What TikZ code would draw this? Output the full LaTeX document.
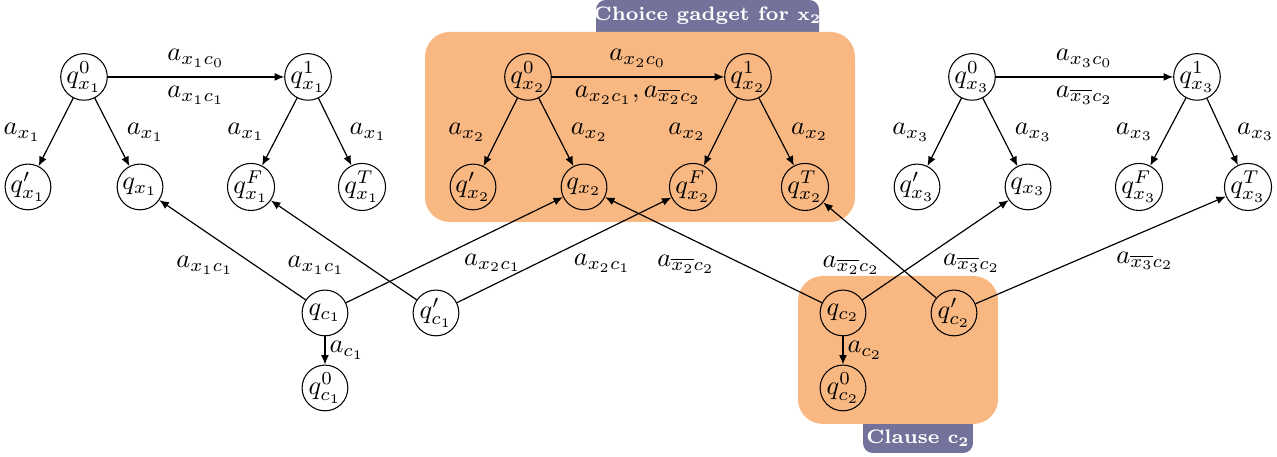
\documentclass[tikz,border=0pt]{standalone}
\usepackage{tikz}
\usetikzlibrary{arrows.meta,calc}
\usepackage{xcolor}
\usepackage{amsmath}
\definecolor{GadgetFill}{HTML}{F9B882}
\definecolor{TagFill}{HTML}{72729A}

\begin{document}
\begin{tikzpicture}[x=1cm,y=1cm,>={Latex[length=3.6pt,width=3pt]},
  stnode/.style={circle,draw,minimum size=0.61cm,inner sep=0pt},
  trans/.style={->,line width=0.45pt},
  lblL/.style={anchor=north east,inner sep=1pt},
  lblR/.style={anchor=north west,inner sep=1pt,yshift=-1.5pt},
  tagtext/.style={text=white,font=\fontsize{7.4}{9}\selectfont\bfseries,inner sep=0pt}]
\useasboundingbox (0,0) rectangle (17.027,6.093);
% gadget backgrounds and their tags
\fill[TagFill,rounded corners=0.13cm] (7.947,5.400) rectangle (10.920,6.093);
\fill[GadgetFill,rounded corners=0.33cm] (5.667,3.133) rectangle (11.400,5.667);
\fill[TagFill,rounded corners=0.13cm] (11.507,0.053) rectangle (12.973,0.800);
\fill[GadgetFill,rounded corners=0.33cm] (10.640,0.440) rectangle (13.307,2.413);
\node[tagtext] (gtag) at (9.433,5.880) {Choice gadget for $\mathbf{x_2}$};
\node[tagtext] (ctag) at (12.240,0.247) {Clause $\mathbf{c_2}$};
% variable x1
\node[stnode] (q0x1) at (1.120,5.067) {$q^0_{x_1}$};
\node[stnode] (q1x1) at (4.107,5.067) {$q^1_{x_1}$};
\node[stnode] (qpx1) at (0.373,3.600) {$q'_{x_1}$};
\node[stnode] (qx1) at (1.867,3.600) {$q_{x_1}$};
\node[stnode] (qFx1) at (3.347,3.600) {$q^F_{x_1}$};
\node[stnode] (qTx1) at (4.827,3.600) {$q^T_{x_1}$};
% variable x2
\node[stnode] (q0x2) at (7.040,5.067) {$q^0_{x_2}$};
\node[stnode] (q1x2) at (9.973,5.067) {$q^1_{x_2}$};
\node[stnode] (qpx2) at (6.307,3.600) {$q'_{x_2}$};
\node[stnode] (qx2) at (7.787,3.600) {$q_{x_2}$};
\node[stnode] (qFx2) at (9.240,3.600) {$q^F_{x_2}$};
\node[stnode] (qTx2) at (10.733,3.600) {$q^T_{x_2}$};
% variable x3
\node[stnode] (q0x3) at (12.960,5.067) {$q^0_{x_3}$};
\node[stnode] (q1x3) at (15.960,5.067) {$q^1_{x_3}$};
\node[stnode] (qpx3) at (12.227,3.600) {$q'_{x_3}$};
\node[stnode] (qx3) at (13.707,3.600) {$q_{x_3}$};
\node[stnode] (qFx3) at (15.187,3.600) {$q^F_{x_3}$};
\node[stnode] (qTx3) at (16.640,3.600) {$q^T_{x_3}$};
% clauses
\node[stnode] (qc1) at (4.333,1.920) {$q_{c_1}$};
\node[stnode] (qpc1) at (5.813,1.920) {$q'_{c_1}$};
\node[stnode] (q0c1) at (4.333,0.920) {$q^0_{c_1}$};
\node[stnode] (qc2) at (11.240,1.920) {$q_{c_2}$};
\node[stnode] (qpc2) at (12.720,1.920) {$q'_{c_2}$};
\node[stnode] (q0c2) at (11.240,0.920) {$q^0_{c_2}$};
% choice transitions
\draw[trans] (q0x1) -- node[above]{$a_{x_1c_0}$} node[below]{$a_{x_1c_1}$} (q1x1);
\draw[trans] (q0x1) -- node[left=2pt]{$a_{x_1}$} (qpx1);
\draw[trans] (q0x1) -- node[right=2pt]{$a_{x_1}$} (qx1);
\draw[trans] (q1x1) -- node[left=2pt]{$a_{x_1}$} (qFx1);
\draw[trans] (q1x1) -- node[right=2pt]{$a_{x_1}$} (qTx1);
\draw[trans] (q0x2) -- node[above]{$a_{x_2c_0}$} node[below]{$a_{x_2c_1}, a_{\overline{x_2}c_2}$} (q1x2);
\draw[trans] (q0x2) -- node[left=2pt]{$a_{x_2}$} (qpx2);
\draw[trans] (q0x2) -- node[right=2pt]{$a_{x_2}$} (qx2);
\draw[trans] (q1x2) -- node[left=2pt]{$a_{x_2}$} (qFx2);
\draw[trans] (q1x2) -- node[right=2pt]{$a_{x_2}$} (qTx2);
\draw[trans] (q0x3) -- node[above]{$a_{x_3c_0}$} node[below]{$a_{\overline{x_3}c_2}$} (q1x3);
\draw[trans] (q0x3) -- node[left=2pt]{$a_{x_3}$} (qpx3);
\draw[trans] (q0x3) -- node[right=2pt]{$a_{x_3}$} (qx3);
\draw[trans] (q1x3) -- node[left=2pt]{$a_{x_3}$} (qFx3);
\draw[trans] (q1x3) -- node[right=2pt]{$a_{x_3}$} (qTx3);
% clause transitions
\draw[trans] (qc1) -- node[pos=0.47,lblL]{$a_{x_1c_1}$} (qx1);
\draw[trans] (qpc1) -- node[pos=0.47,lblL]{$a_{x_1c_1}$} (qFx1);
\draw[trans] (qc1) -- node[pos=0.53,lblR]{$a_{x_2c_1}$} (qx2);
\draw[trans] (qpc1) -- node[pos=0.53,lblR]{$a_{x_2c_1}$} (qFx2);
\draw[trans] (qc2) -- node[pos=0.48,lblL]{$a_{\overline{x_2}c_2}$} (qx2);
\draw[trans] (qpc2) -- node[pos=0.47,lblL]{$a_{\overline{x_2}c_2}$} (qTx2);
\draw[trans] (qc2) -- node[pos=0.53,lblR]{$a_{\overline{x_3}c_2}$} (qx3);
\draw[trans] (qpc2) -- node[pos=0.55,lblR]{$a_{\overline{x_3}c_2}$} (qTx3);
\draw[trans] (qc1) -- node[right,inner sep=1.5pt]{$a_{c_1}$} (q0c1);
\draw[trans] (qc2) -- node[right,inner sep=1.5pt]{$a_{c_2}$} (q0c2);
\end{tikzpicture}
\end{document}
